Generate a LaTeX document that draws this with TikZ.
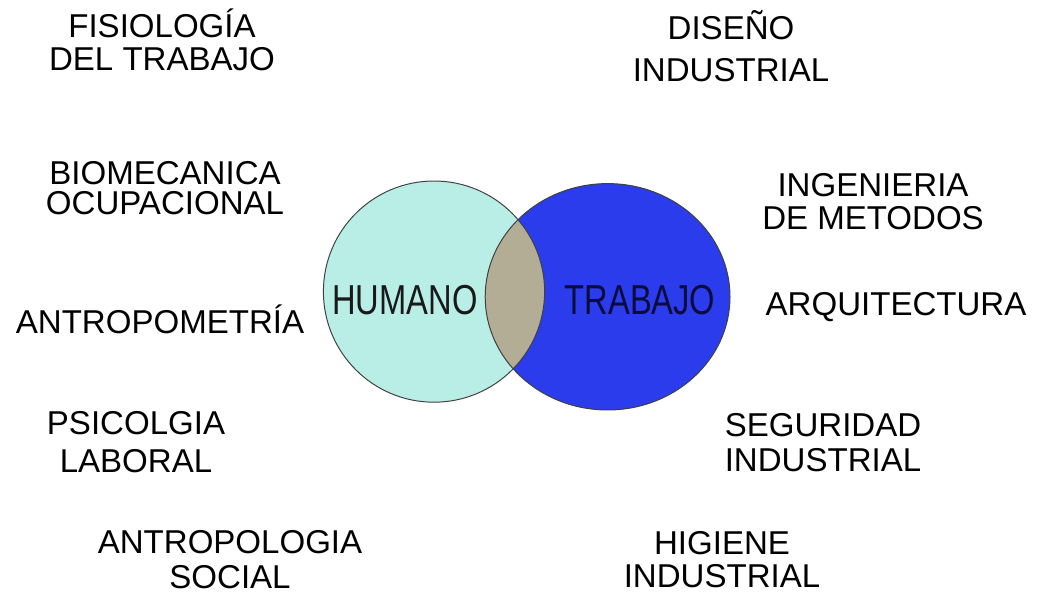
\documentclass[tikz,border=0pt]{standalone}
\usepackage{fontspec}
\setmainfont{Liberation Sans}
\newfontfamily\narrowfont[FakeStretch=0.78]{Liberation Sans}
\usetikzlibrary{positioning}

\definecolor{celeste}{RGB}{185,238,230}
\definecolor{azul}{RGB}{42,60,235}
\definecolor{cruce}{RGB}{180,173,150}
\definecolor{marino}{RGB}{12,12,60}

\begin{document}
\begin{tikzpicture}[
    campo/.style={align=center, inner sep=0pt, font=\fontsize{23.5pt}{23.5pt}\selectfont},
    centro/.style={inner sep=0pt, font=\narrowfont\fontsize{29.8pt}{30pt}\selectfont},
    borde/.style={draw=black!75, line width=0.7pt}
]

% Marco
\useasboundingbox[fill=white] (0,0) rectangle (26.05,-14.9);

% Circulos
\coordinate (chumano) at (10.85,-7.29);
\coordinate (ctrabajo) at (15.19,-7.42);
\fill[celeste] (chumano) circle (2.765);
\fill[azul] (ctrabajo) ellipse (3.06 and 2.83);
\begin{scope}
  \clip (chumano) circle (2.765);
  \fill[cruce] (ctrabajo) ellipse (3.06 and 2.83);
\end{scope}
\draw[borde] (chumano) circle (2.765);
\draw[borde] (ctrabajo) ellipse (3.06 and 2.83);

\node[centro, text=black!90] (humano) at (10.125,-7.5) {HUMANO};
\node[centro, text=marino] (trabajo) at (16.0,-7.5) {TRABAJO};

% Izquierda
\node[campo] (fisiologia) at (4.05,-1.0) {FISIOLOGÍA\\DEL TRABAJO};
\node[campo] (biomecanica) at (4.125,-4.71) {BIOMECANICA\\[-2pt]OCUPACIONAL};
\node[campo] (antropometria) at (4.0,-7.975) {ANTROPOMETRÍA};
\node[campo] (psicologia) at (3.4,-11.05) {PSICOLGIA\\[3pt]LABORAL};
\node[campo] (antropologia) at (5.75,-14.0) {ANTROPOLOGIA\\[1.5pt]SOCIAL};

% Derecha
\node[campo] (diseno) at (18.275,-1.15) {DISEÑO\\[6pt]INDUSTRIAL};
\node[campo] (ingenieria) at (21.825,-5.05) {INGENIERIA\\DE METODOS};
\node[campo] (arquitectura) at (22.4,-7.675) {ARQUITECTURA};
\node[campo] (seguridad) at (20.575,-11.06) {SEGURIDAD\\[1.5pt]INDUSTRIAL};
\node[campo] (higiene) at (18.05,-14.0) {HIGIENE\\INDUSTRIAL};

\end{tikzpicture}
\end{document}
